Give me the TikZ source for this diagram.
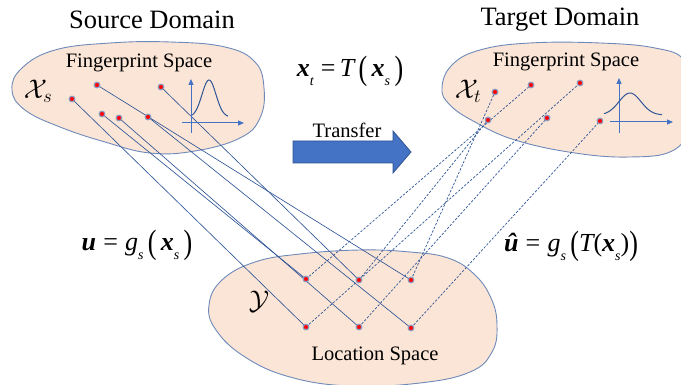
\documentclass[tikz,border=0pt]{standalone}
\usepackage{fix-cm}
\usepackage{fontspec}
\setmainfont{Liberation Serif}
\usetikzlibrary{arrows.meta}

\definecolor{blobfill}{RGB}{251,229,214}
\definecolor{blobline}{RGB}{110,138,186}
\definecolor{linkblue}{RGB}{47,85,151}
\definecolor{axisblue}{RGB}{68,114,196}
\definecolor{halo}{RGB}{140,155,192}
\definecolor{arrowfill}{RGB}{68,114,196}
\definecolor{arrowline}{RGB}{47,82,143}

\newcommand{\bvec}[1]{{\bfseries\itshape #1}}
\newcommand{\lowsub}[1]{\raisebox{-0.34em}{\fontsize{14}{14}\selectfont\itshape #1}}
\newcommand{\tallparen}[1]{\raisebox{-0.1em}{\scalebox{1}[1.3]{#1}}}

\pgfdeclarelayer{blobs}
\pgfdeclarelayer{links}
\pgfsetlayers{blobs,links,main}

\begin{document}
\begin{tikzpicture}[x=1pt,y=-1pt,
  blob/.style={fill=blobfill,draw=blobline,line width=0.9pt},
  pt/.style={circle,fill=red,draw=halo,line width=1.2pt,inner sep=0pt,minimum size=5.6pt},
  solidlink/.style={draw=linkblue,line width=0.65pt},
  dashlink/.style={draw=linkblue,line width=0.7pt,dash pattern=on 2.4pt off 1.6pt},
  axis/.style={draw=axisblue,line width=1pt,-{Triangle[length=6pt,width=5pt]}},
  curve/.style={draw=linkblue,line width=1pt},
  heading/.style={font=\fontsize{26.5}{30}\selectfont,inner sep=0pt},
  caption/.style={font=\fontsize{20.5}{24}\selectfont,inner sep=0pt},
  formula/.style={font=\fontsize{26}{30}\selectfont,inner sep=0pt},
  setname/.style={font=\fontsize{27}{30}\selectfont,inner sep=0pt}]
\useasboundingbox (0,0) rectangle (681,385);

% the three spaces
\begin{pgfonlayer}{blobs}
\draw[blob] plot[smooth cycle,tension=0.7] coordinates {
  (12,90) (22,68) (55,50) (110,43) (170,42) (225,47) (255,62) (264,88)
  (260,118) (240,138) (195,151) (150,153) (105,142) (60,127) (25,110)};
\draw[blob] plot[smooth cycle,tension=0.7] coordinates {
  (442,88) (452,65) (480,50) (530,43) (600,43) (655,48) (684,60) (690,90)
  (688,128) (672,151) (630,157) (575,153) (515,140) (475,122) (450,105)};
\draw[blob] plot[smooth cycle,tension=0.7] coordinates {
  (209,305) (222,280) (255,262) (300,254) (360,250) (410,252) (448,258)
  (474,274) (491,298) (497,325) (492,352) (470,372) (420,383) (350,386)
  (290,377) (245,357) (216,330)};
\end{pgfonlayer}

% headings and captions
\node[heading] (srcdom) at (152,20) {Source Domain};
\node[heading] (tgtdom) at (560,20) {Target Domain};
\node[caption] (srcfp) at (139,63) {Fingerprint Space};
\node[caption] (tgtfp) at (566,62) {Fingerprint Space};
\node[caption] (locsp) at (375,356) {Location Space};
\node[caption] (transfer) at (347,130) {Transfer};

\node[setname] (xs) at (38,91) {$\mathcal{X}_{s}$};
\node[setname] (xt) at (468,91) {$\mathcal{X}_{t}$};
\node[setname] (yy) at (259,302) {$\mathcal{Y}$};

\node[formula] (tmap) at (350,71) {\bvec{x}\lowsub{t}\;=\,{\itshape T}\,\tallparen{(}\,\bvec{x}\lowsub{s}\,\tallparen{)}};
\node[formula] (gmap) at (137,245) {\bvec{u}\;=\;{\itshape g}\lowsub{s}\,\tallparen{(}\,\bvec{x}\lowsub{s}\,\tallparen{)}};
\node[formula] (ghat) at (571,246) {\bvec{û}\;=\;{\itshape g}\lowsub{s}\,\tallparen{(}{\itshape T}(\bvec{x}\lowsub{s})\tallparen{)}};

% transfer block arrow
\draw[fill=arrowfill,draw=arrowline,line width=0.8pt]
  (293,141) -- (393,141) -- (393,131) -- (411,152) -- (393,173) -- (393,163) -- (293,163) -- cycle;

% small distribution sketches
\draw[axis] (191,133) -- (191,79);
\draw[axis] (182,123) -- (244,123);
\draw[curve] plot[domain=192:228,samples=50] (\x,{117-37*exp(-((\x-209)/7)^2/2)});
\draw[axis] (619,133) -- (619,78);
\draw[axis] (610,122) -- (673,122);
\draw[curve] plot[domain=604:662,samples=50] (\x,{115-22*exp(-((\x-630)/11)^2/2)});

% fingerprints in the source space
\node[pt] (s1) at (97,85) {};
\node[pt] (s2) at (161,87) {};
\node[pt] (s3) at (72,99) {};
\node[pt] (s4) at (102,114) {};
\node[pt] (s5) at (119,118) {};
\node[pt] (s6) at (148,117) {};
% fingerprints in the target space
\node[pt] (t1) at (495,92) {};
\node[pt] (t2) at (531,85) {};
\node[pt] (t3) at (580,83) {};
\node[pt] (t4) at (488,120) {};
\node[pt] (t5) at (547,118) {};
\node[pt] (t6) at (600,121) {};
% locations
\node[pt] (l1) at (306,279) {};
\node[pt] (l2) at (359,280) {};
\node[pt] (l3) at (411,280) {};
\node[pt] (l4) at (306,327) {};
\node[pt] (l5) at (359,327) {};
\node[pt] (l6) at (411,328) {};

\begin{pgfonlayer}{links}
\draw[solidlink] (s1.center) -- (l3.center);
\draw[solidlink] (s2.center) -- (l2.center);
\draw[solidlink] (s3.center) -- (l4.center);
\draw[solidlink] (s4.center) -- (l1.center);
\draw[solidlink] (s5.center) -- (l5.center);
\draw[solidlink] (s6.center) -- (l6.center);
\draw[dashlink] (l1.center) -- (t2.center);
\draw[dashlink] (l2.center) -- (t4.center);
\draw[dashlink] (l3.center) -- (t1.center);
\draw[dashlink] (l4.center) -- (t3.center);
\draw[dashlink] (l5.center) -- (t5.center);
\draw[dashlink] (l6.center) -- (t6.center);
\end{pgfonlayer}
\end{tikzpicture}
\end{document}
